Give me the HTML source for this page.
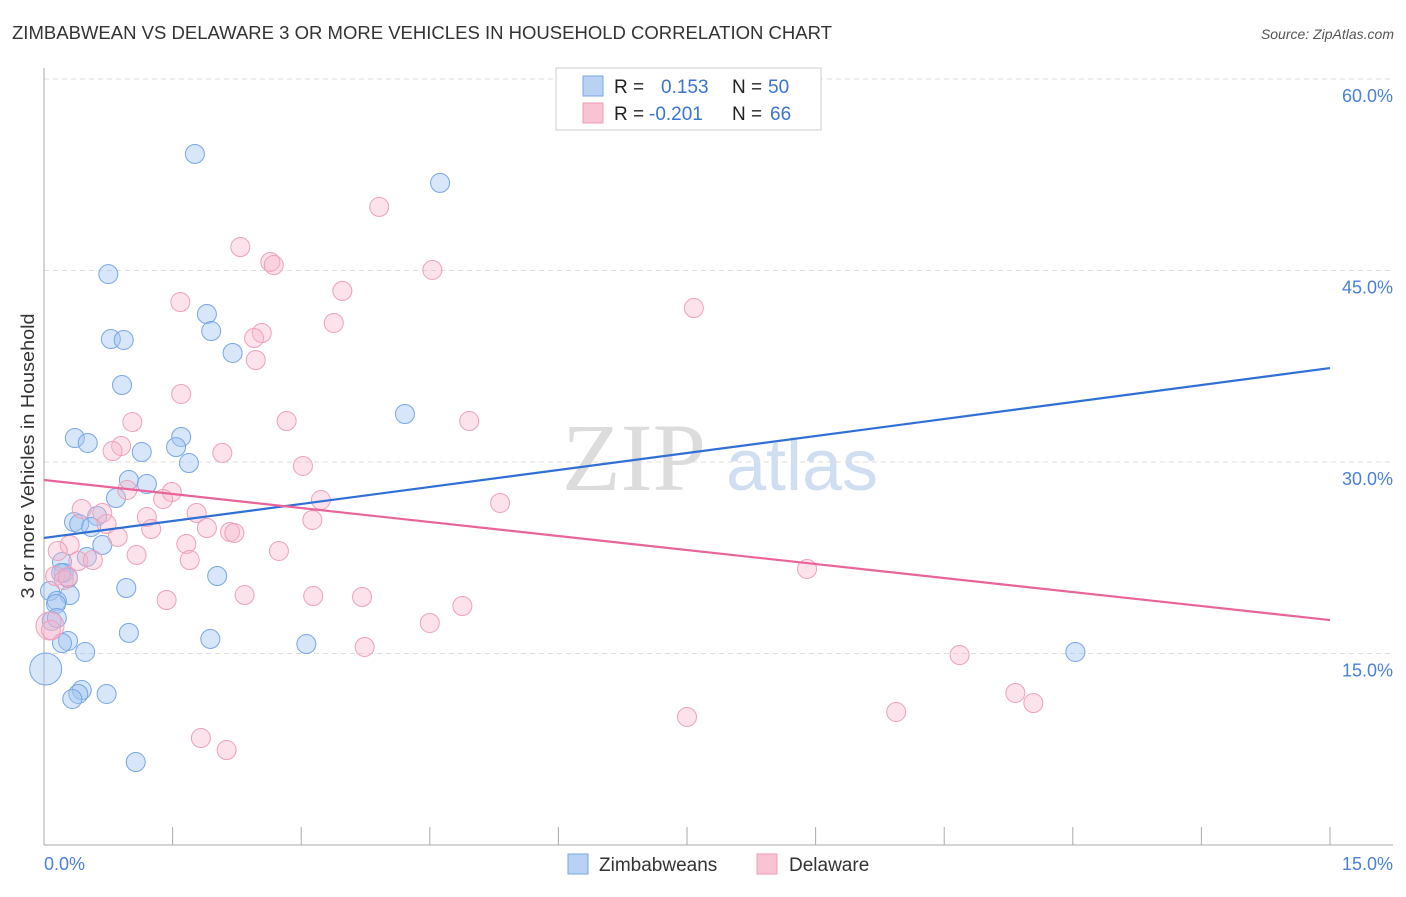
<!DOCTYPE html>
<html><head><meta charset="utf-8"><style>
body{margin:0;background:#fff;font-family:"Liberation Sans",sans-serif;}
</style></head><body>
<svg id="chart" width="1406" height="892" xmlns="http://www.w3.org/2000/svg">
<text x="12" y="39" font-size="18" fill="#333" textLength="820" lengthAdjust="spacingAndGlyphs">ZIMBABWEAN VS DELAWARE 3 OR MORE VEHICLES IN HOUSEHOLD CORRELATION CHART</text>
<text x="1394" y="39" font-size="14" fill="#555" font-style="italic" text-anchor="end">Source: ZipAtlas.com</text>
<text x="34" y="456" font-size="18" fill="#333" text-anchor="middle" textLength="285" lengthAdjust="spacingAndGlyphs" transform="rotate(-90 34 456)">3 or more Vehicles in Household</text>
<g>
<text x="634" y="490" font-size="96" font-family="Liberation Serif,serif" fill="#dcdcdc" text-anchor="middle">ZIP</text>
<text x="802" y="490" font-size="72" fill="#d0def2" text-anchor="middle">atlas</text>
</g>
<g id="grid"></g>
<g id="axes"></g>
<g id="points"></g>
<g id="lines"></g>
<g>
<rect x="556" y="68" width="265" height="62" fill="#fff" stroke="#ccc"/>
<rect x="583" y="76" width="20" height="20" fill="#b8d2f4" stroke="#7aa6e6"/>
<rect x="583" y="103" width="20" height="20" fill="#f8c4d4" stroke="#ec9cb6"/>
<text x="614" y="93" font-size="19" fill="#222">R = </text><text x="661" y="93" font-size="19" fill="#3a74d0">0.153</text>
<text x="732" y="93" font-size="19" fill="#222">N = </text><text x="768" y="93" font-size="19" fill="#3a74d0">50</text>
<text x="614" y="120" font-size="19" fill="#222">R = </text><text x="649" y="120" font-size="19" fill="#3a74d0">-0.201</text>
<text x="732" y="120" font-size="19" fill="#222">N = </text><text x="770" y="120" font-size="19" fill="#3a74d0">66</text>
</g>
<g>
<rect x="568" y="854" width="20" height="20" fill="#b8d2f4" stroke="#7aa6e6"/>
<text x="599" y="871" font-size="19" fill="#333">Zimbabweans</text>
<rect x="757" y="854" width="20" height="20" fill="#f8c4d4" stroke="#ec9cb6"/>
<text x="789" y="871" font-size="19" fill="#333">Delaware</text>
</g>
</svg>
<script>
const yTicks=[15,30,45,60];
const yTickLabels=["15.0%","30.0%","45.0%","60.0%"];
const xTickLabels=["0.0%","15.0%"];
const blueX=[1.76,4.62,0.75,1.90,1.95,0.78,0.93,2.20,0.91,4.21,0.36,0.51,1.60,1.14,1.54,1.69,0.99,1.20,0.84,0.62,0.35,0.41,0.55,0.68,0.50,0.21,0.23,0.28,2.02,0.96,0.07,0.30,0.15,0.14,0.09,0.15,0.99,1.94,3.06,0.28,0.21,0.48,12.03,0.02,0.44,0.40,0.33,0.73,1.07,0.20];
const blueY=[54.13,51.86,44.72,41.59,40.26,39.63,39.56,38.54,36.03,33.76,31.88,31.49,31.96,30.78,31.17,29.92,28.59,28.28,27.18,25.77,25.30,25.14,24.91,23.50,22.56,22.17,21.31,20.91,21.07,20.13,19.90,19.58,19.11,18.88,17.55,17.78,16.61,16.14,15.74,15.98,15.82,15.12,15.12,13.79,12.14,11.83,11.44,11.83,6.50,21.31];
const pinkX=[3.91,2.29,2.64,2.68,4.53,1.59,3.48,7.58,3.38,2.54,2.45,2.47,1.60,1.03,2.83,4.96,0.90,0.80,2.08,3.02,0.97,1.49,1.39,3.23,5.32,0.44,0.68,1.78,1.20,3.13,0.73,1.25,1.90,2.17,2.22,0.86,0.30,1.66,0.16,2.74,1.08,0.40,0.57,1.70,8.90,0.13,0.23,0.28,2.34,3.14,3.71,1.43,4.88,4.50,0.07,3.74,10.68,11.33,11.54,9.94,7.50,1.83,2.13,0.08];
const pinkY=[49.98,46.84,45.67,45.43,45.04,42.53,43.40,42.06,40.89,40.10,39.71,37.99,35.33,33.13,33.21,33.21,31.25,30.86,30.71,29.69,27.81,27.65,27.10,27.02,26.79,26.32,26.01,26.01,25.69,25.46,25.14,24.75,24.83,24.52,24.44,24.13,23.50,23.58,23.03,23.03,22.72,22.25,22.32,22.32,21.62,21.07,20.76,20.99,19.58,19.50,19.43,19.19,18.72,17.39,17.15,15.51,14.88,11.91,11.12,10.42,10.03,8.38,7.44,16.84];
const blueTrend=[24.05,37.36];
const pinkTrend=[28.59,17.62];
const NS="http://www.w3.org/2000/svg";
const X0=44,X1=1330,Y0=845,PXPER=191.5/15;
const sx=v=>X0+(v/15)*(X1-X0);
const sy=v=>Y0-v*PXPER;
function mk(t,a,p){const e=document.createElementNS(NS,t);for(const k in a)e.setAttribute(k,a[k]);p.appendChild(e);return e;}
const grid=document.getElementById('grid'),axes=document.getElementById('axes'),pts=document.getElementById('points'),lines=document.getElementById('lines');
yTicks.forEach((t,i)=>{
 const l=mk('line',{x1:44,x2:1393,y1:sy(t),y2:sy(t),stroke:'#ddd','stroke-dasharray':'5,4'},grid);
 
 
 const tx=mk('text',{x:1393,y:sy(t)+23,'font-size':18,fill:'#4a80d8','text-anchor':'end'},axes);
 tx.textContent=yTickLabels[i];
 
 
});
const ax=mk('line',{x1:44,x2:44,y1:68,y2:845,stroke:'#aaa'},axes);


const bx=mk('line',{x1:44,x2:1393,y1:845,y2:845,stroke:'#aaa'},axes);


for(let i=0;i<=10;i++){
 const tk=mk('line',{x1:sx(i*1.5),x2:sx(i*1.5),y1:827,y2:845,stroke:'#aaa'},axes);
 
 
}
const xl0=mk('text',{x:44,y:870,'font-size':18,fill:'#4a80d8'},axes);xl0.textContent=xTickLabels[0];


const xl1=mk('text',{x:1393,y:870,'font-size':18,fill:'#4a80d8','text-anchor':'end'},axes);xl1.textContent=xTickLabels[1];


blueX.forEach((x,i)=>{
 const c=mk('circle',{cx:sx(x),cy:sy(blueY[i]),r:(i===43?16:9.5),fill:'rgba(160,196,240,0.42)',stroke:'#78a6e4','stroke-width':1},pts);
 
 
});
pinkX.forEach((x,i)=>{
 const c=mk('circle',{cx:sx(x),cy:sy(pinkY[i]),r:(i===54?14:9.5),fill:'rgba(246,182,202,0.38)',stroke:'#eea0ba','stroke-width':1},pts);
 
 
});
const bl=mk('line',{x1:sx(0),x2:sx(15),y1:sy(blueTrend[0]),y2:sy(blueTrend[1]),stroke:'#2f6fd6','stroke-width':2.2},lines);


const pl=mk('line',{x1:sx(0),x2:sx(15),y1:sy(pinkTrend[0]),y2:sy(pinkTrend[1]),stroke:'#e8649a','stroke-width':2.2},lines);


</script>
</body></html>
